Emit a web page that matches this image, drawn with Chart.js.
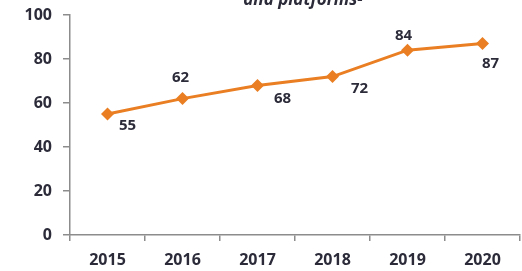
<!DOCTYPE html>
<html>
<head>
<meta charset="utf-8">
<script src="https://cdn.jsdelivr.net/npm/chart.js@4/dist/chart.umd.min.js"></script>
<style>
	html, body { margin: 0; padding: 0; background: #fff; }
	#wrap { position: relative; width: 522px; height: 271px; }
</style>
</head>
<body>
<div id="wrap"><canvas id="chart"></canvas></div>
<script>
// chart data
const years = ['2015', '2016', '2017', '2018', '2019', '2020'];
const values = [55, 62, 68, 72, 84, 87];
const yTicks = [0, 20, 40, 60, 80, 100];
const titleText = 'and platforms-';

// label placement (dx, dy from the point)
const labelOffsets = [[20, 12], [-2, -21], [25, 13], [27, 12], [-4, -14], [8, 20]];

const textColor = '#2b2b3a';
const axisColor = '#8c8c8c';
const lineColor = '#e97f22';
const fontFamily = '"Open Sans", sans-serif';

const pointLabels = {
	id: 'pointLabels',
	afterDatasetsDraw(chart) {
		const ctx = chart.ctx;
		const meta = chart.getDatasetMeta(0);
		ctx.save();
		ctx.font = 'bold 15px ' + fontFamily;
		ctx.fillStyle = textColor;
		ctx.textAlign = 'center';
		ctx.textBaseline = 'middle';
		meta.data.forEach((pt, i) => {
			const [dx, dy] = labelOffsets[i];
			ctx.fillText(String(values[i]), pt.x + dx, pt.y + dy);
		});
		ctx.restore();
	},
};

const clippedTitle = {
	id: 'clippedTitle',
	afterDraw(chart) {
		const ctx = chart.ctx;
		ctx.save();
		ctx.font = 'italic bold 17px ' + fontFamily;
		ctx.fillStyle = textColor;
		ctx.textAlign = 'center';
		ctx.textBaseline = 'alphabetic';
		ctx.fillText(titleText, 303, 5);
		ctx.restore();
	},
};

new Chart(document.getElementById('chart'), {
	type: 'line',
	data: {
		labels: years,
		datasets: [{
			data: values,
			borderColor: lineColor,
			backgroundColor: lineColor,
			borderWidth: 3,
			pointStyle: 'rectRot',
			pointRadius: 6.5,
			pointBorderWidth: 0,
			tension: 0,
		}],
	},
	options: {
		responsive: true,
		maintainAspectRatio: false,
		animation: false,
		layout: { autoPadding: false, padding: { top: 15, right: 2, left: 0, bottom: 0 } },
		plugins: {
			legend: { display: false },
			tooltip: { enabled: false },
		},
		scales: {
			x: {
				offset: true,
				grid: {
					offset: true,
					drawOnChartArea: false,
					drawTicks: true,
					tickLength: 6,
					color: axisColor,
					lineWidth: 1.5,
				},
				border: { color: axisColor, width: 1.5 },
				ticks: {
					color: textColor,
					font: { family: fontFamily, size: 16, weight: 'bold' },
					padding: 10,
					maxRotation: 0,
				},
				afterFit(scale) {
					scale.height = 36;
					scale.paddingLeft = 0;
					scale.paddingRight = 0;
				},
			},
			y: {
				min: 0,
				max: 100,
				afterBuildTicks(scale) { scale.ticks = yTicks.map(v => ({ value: v })); },
				grid: {
					drawOnChartArea: false,
					drawTicks: true,
					tickLength: 7,
					color: axisColor,
					lineWidth: 1.5,
				},
				border: { color: axisColor, width: 1.5 },
				ticks: {
					color: textColor,
					font: { family: fontFamily, size: 16, weight: 'bold' },
					padding: 11,
				},
				afterFit(scale) {
					scale.width = 70;
					scale.paddingTop = 0;
					scale.paddingBottom = 0;
				},
			},
		},
	},
	plugins: [pointLabels, clippedTitle],
});
</script>
</body>
</html>
